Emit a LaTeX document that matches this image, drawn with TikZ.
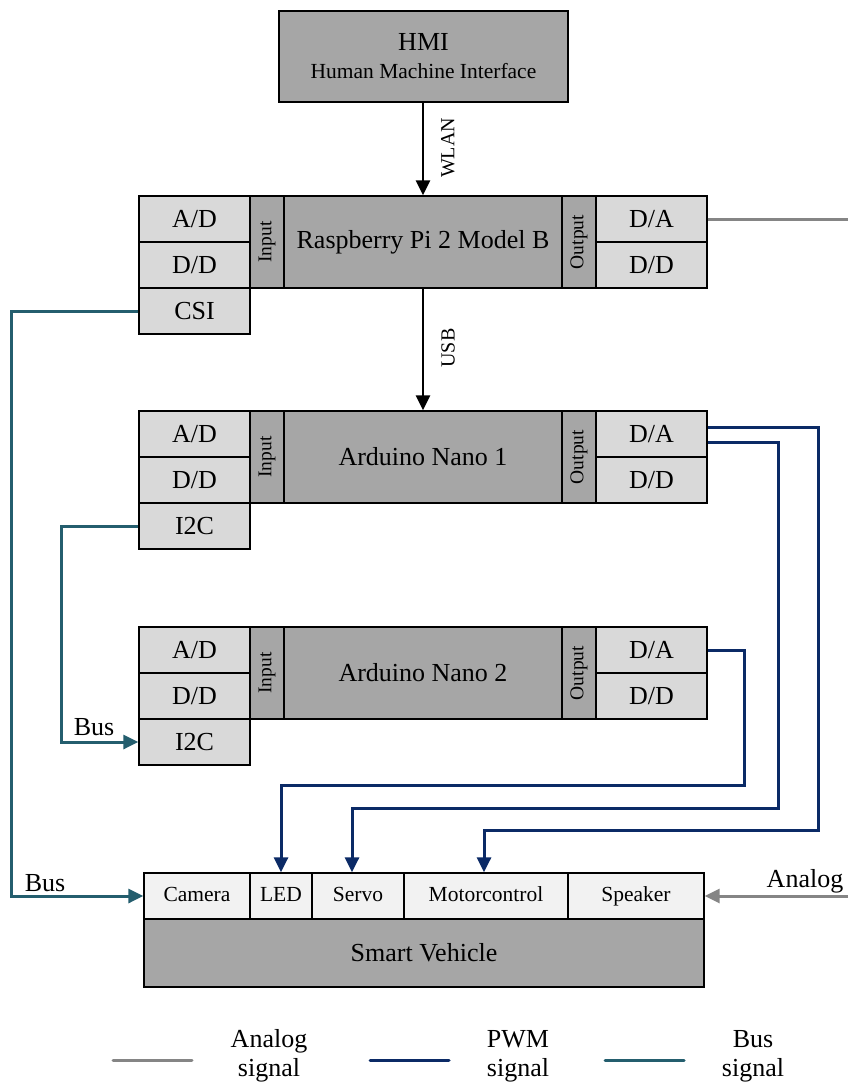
\documentclass[tikz,border=0pt]{standalone}
\usepackage{fontspec}
\setmainfont{Liberation Serif}
\usetikzlibrary{arrows.meta}
\definecolor{cellgray}{HTML}{D9D9D9}
\definecolor{maingray}{HTML}{A6A6A6}
\definecolor{lightcell}{HTML}{F2F2F2}
\definecolor{pwmcol}{HTML}{0B2A66}
\definecolor{buscol}{HTML}{245E6E}
\definecolor{anacol}{HTML}{858585}
\newcommand{\fsbig}{\fontsize{26}{30}\selectfont}
\newcommand{\fsmid}{\fontsize{21.5}{25}\selectfont}
\newcommand{\fssmall}{\fontsize{19.5}{23}\selectfont}
\begin{document}
\begin{tikzpicture}[x=1pt,y=-1pt,
  box/.style={draw=black,line width=1.3pt,inner sep=0pt,font=\fsbig},
  cell/.style={box,fill=cellgray,minimum width=111pt,minimum height=46pt},
  strip/.style={box,fill=maingray,minimum width=34pt,minimum height=92pt,font=\fssmall},
  core/.style={box,fill=maingray,minimum width=278pt,minimum height=92pt},
  vcell/.style={box,fill=lightcell,minimum height=46pt,font=\fsmid,text height=15pt,text depth=5pt},
  sig/.style={line width=3pt},
  pwm/.style={sig,draw=pwmcol,-{Triangle[length=15pt,width=14pt]}},
  bus/.style={sig,draw=buscol,-{Triangle[length=15pt,width=14pt]}},
  ana/.style={sig,draw=anacol},
  blk/.style={line width=2.5pt,draw=black,-{Triangle[length=15pt,width=14pt]}},
  lbl/.style={font=\fsbig,inner sep=0pt},
  rlbl/.style={font=\fontsize{20}{24}\selectfont,rotate=90,inner sep=0pt}
]
\useasboundingbox (0,0) rectangle (848,1086);

% HMI
\node[box,fill=maingray,minimum width=289pt,minimum height=91pt,align=center] (hmi) at (423.5,56.5)
  {HMI\\[-2pt]{\fsmid Human Machine Interface}};

% Raspberry Pi
\node[cell] (rad) at (194.5,219) {A/D};
\node[cell] (rdd) at (194.5,265) {D/D};
\node[cell] (rcsi) at (194.5,311) {CSI};
\node[strip] (rin) at (267,242) {\rotatebox{90}{Input}};
\node[core] (rpi) at (423,242) {Raspberry Pi 2 Model B};
\node[strip] (rout) at (579,242) {\rotatebox{90}{Output}};
\node[cell] (rda) at (651.5,219) {D/A};
\node[cell] (rdd2) at (651.5,265) {D/D};

% Arduino Nano 1
\node[cell] (aad) at (194.5,434) {A/D};
\node[cell] (add) at (194.5,480) {D/D};
\node[cell] (ai2c) at (194.5,526) {I2C};
\node[strip] (ain) at (267,457) {\rotatebox{90}{Input}};
\node[core] (ard1) at (423,457) {Arduino Nano 1};
\node[strip] (aout) at (579,457) {\rotatebox{90}{Output}};
\node[cell] (ada) at (651.5,434) {D/A};
\node[cell] (add2) at (651.5,480) {D/D};

% Arduino Nano 2
\node[cell] (bad) at (194.5,650) {A/D};
\node[cell] (bdd) at (194.5,696) {D/D};
\node[cell] (bi2c) at (194.5,742) {I2C};
\node[strip] (bin) at (267,673) {\rotatebox{90}{Input}};
\node[core] (ard2) at (423,673) {Arduino Nano 2};
\node[strip] (bout) at (579,673) {\rotatebox{90}{Output}};
\node[cell] (bda) at (651.5,650) {D/A};
\node[cell] (bdd2) at (651.5,696) {D/D};

% Smart vehicle
\node[vcell,minimum width=106pt] (cam) at (197,896) {Camera};
\node[vcell,minimum width=62pt] (led) at (281,896) {LED};
\node[vcell,minimum width=92pt] (servo) at (358,896) {Servo};
\node[vcell,minimum width=164pt] (motor) at (486,896) {Motorcontrol};
\node[vcell,minimum width=136pt] (spk) at (636,896) {Speaker};
\node[box,fill=maingray,minimum width=560pt,minimum height=68pt] (sv) at (424,953) {Smart Vehicle};

% Black arrows
\draw[blk] (hmi.south -| rpi.north) -- (rpi.north);
\node[rlbl] (wlan) at (448,148) {WLAN};
\draw[blk] (rpi.south) -- (ard1.north);
\node[rlbl] (usb) at (448,348) {USB};

% Analog
\coordinate (anaout) at (848,219);
\coordinate (anain) at (848,896);
\draw[ana] (rda.east) -- (anaout);
\draw[ana,-{Triangle[length=15pt,width=14pt]}] (anain) -- (spk.east);
\node[lbl] (analab) at (805,881) {Analog};

% Bus
\draw[bus] (rcsi.west) -| ++(-127,585) -- (cam.west);
\node[lbl] (buslab1) at (45,883) {Bus};
\draw[bus] (ai2c.west) -| ++(-77,216) -- (bi2c.west);
\node[lbl] (buslab2) at (94,727) {Bus};

% PWM
\draw[pwm] ([yshift=7pt]ada.east) -| ++(111,403) -| ([xshift=-2pt]motor.north);
\draw[pwm] ([yshift=-8pt]ada.east) -| ++(71,366) -| ([xshift=-6pt]servo.north);
\draw[pwm] (bda.east) -| ++(37,135) -| (led.north);

% Legend
\coordinate (la1) at (113,1060); \coordinate (la2) at (192,1060);
\coordinate (lp1) at (370,1060); \coordinate (lp2) at (449,1060);
\coordinate (lb1) at (605,1060); \coordinate (lb2) at (684,1060);
\draw[line width=3pt,anacol,line cap=round] (la1) -- (la2);
\draw[line width=3pt,pwmcol,line cap=round] (lp1) -- (lp2);
\draw[line width=3pt,buscol,line cap=round] (lb1) -- (lb2);
\node[lbl,align=center] (lega) at (269,1056) {Analog\\[-1pt]signal};
\node[lbl,align=center] (legp) at (518,1056) {PWM\\[-1pt]signal};
\node[lbl,align=center] (legb) at (753,1056) {Bus\\[-1pt]signal};
\end{tikzpicture}
\end{document}
